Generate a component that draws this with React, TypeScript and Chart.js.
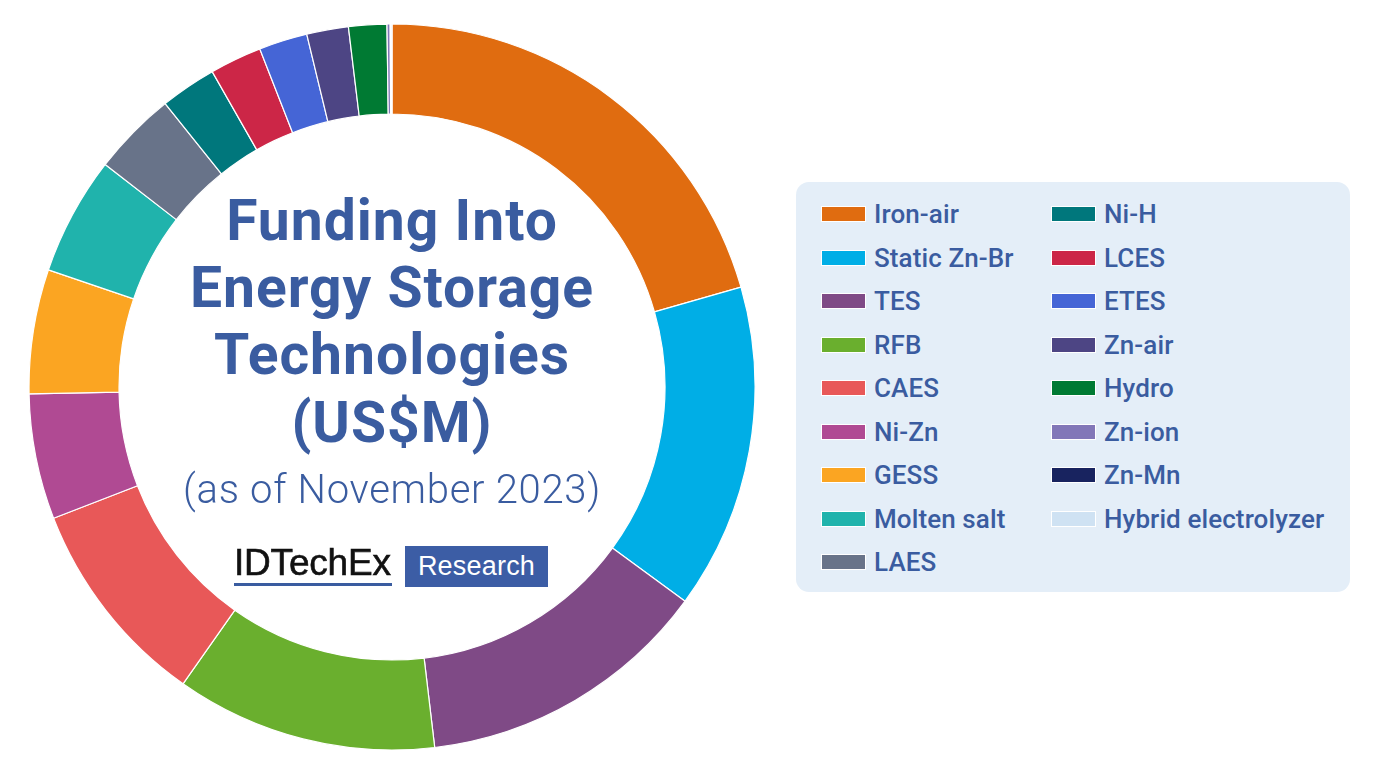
import React, { useEffect, useRef } from "react";
import { Chart, registerables } from "chart.js";

Chart.register(...registerables);

const technologies = [
  "Iron-air",
  "Static Zn-Br",
  "TES",
  "RFB",
  "CAES",
  "Ni-Zn",
  "GESS",
  "Molten salt",
  "LAES",
  "Ni-H",
  "LCES",
  "ETES",
  "Zn-air",
  "Hydro",
  "Zn-ion",
  "Zn-Mn",
  "Hybrid electrolyzer",
];

// Funding (US$M)
const fundingUSDm = [1030, 725, 655, 583, 468, 280, 277, 264, 188, 125, 116, 108, 93, 85, 7, 1, 3];

const sliceColors = [
  "#E06C10",
  "#00AEE6",
  "#7F4A86",
  "#6AAF2E",
  "#E85858",
  "#B04A93",
  "#FBA522",
  "#20B3AC",
  "#687389",
  "#00777C",
  "#CC2647",
  "#4565D6",
  "#4D4584",
  "#007A33",
  "#8277B8",
  "#18235F",
  "#CFE2F3",
];

const titleLines = ["Funding Into", "Energy Storage", "Technologies", "(US$M)"];
const subtitle = "(as of November 2023)";

const BLUE = "#3A5CA0";

export default function App() {
  const canvasRef = useRef<HTMLCanvasElement | null>(null);

  useEffect(() => {
    const canvas = canvasRef.current;
    if (!canvas) return;
    const chart = new Chart(canvas, {
      type: "doughnut",
      data: {
        labels: technologies,
        datasets: [
          {
            data: fundingUSDm,
            backgroundColor: sliceColors,
            borderColor: "#ffffff",
            borderWidth: 1.2,
            hoverBorderWidth: 1.2,
            hoverOffset: 0,
            offset: 0,
          },
        ],
      },
      options: {
        responsive: false,
        animation: false,
        devicePixelRatio: 1,
        radius: 363,
        cutout: "75.2%",
        layout: { padding: 0 },
        plugins: {
          legend: { display: false },
          tooltip: { enabled: false },
        },
      },
    });
    return () => chart.destroy();
  }, []);

  const titleBaselines = [239.5, 307, 374, 441.5];
  const titleSize = 57;
  const subSize = 40;

  const legendRows = 9;
  const rowPitch = 43.5;
  const firstCenter = 214;
  const legendFont = 26;

  return (
    <div
      style={{
        position: "fixed",
        left: 0,
        top: 0,
        width: 1378,
        height: 776,
        background: "#ffffff",
        overflow: "hidden",
        fontFamily: "Roboto, 'Noto Sans', sans-serif",
      }}
    >
      <div style={{ position: "absolute", left: 28, top: 23, width: 728, height: 728 }}>
        <canvas ref={canvasRef} width={728} height={728} style={{ width: 728, height: 728 }} />
      </div>

      {titleLines.map((line, i) => (
        <div
          key={line}
          style={{
            position: "absolute",
            left: 92,
            width: 600,
            top: titleBaselines[i] - 0.842 * titleSize,
            height: titleSize,
            lineHeight: `${titleSize}px`,
            fontSize: titleSize,
            fontWeight: 700,
            letterSpacing: "1px",
            color: BLUE,
            textAlign: "center",
            whiteSpace: "nowrap",
          }}
        >
          {line}
        </div>
      ))}
      <div
        style={{
          position: "absolute",
          left: 92,
          width: 600,
          top: 504 - 0.842 * subSize,
          height: subSize,
          lineHeight: `${subSize}px`,
          fontSize: subSize,
          fontWeight: 300,
          letterSpacing: "0.7px",
          color: BLUE,
          textAlign: "center",
          whiteSpace: "nowrap",
        }}
      >
        {subtitle}
      </div>

      {/* IDTechEx Research logo */}
      <div
        style={{
          position: "absolute",
          left: 234,
          top: 577.5 - 0.905 * 37,
          height: 37,
          lineHeight: "37px",
          fontSize: 37,
          fontFamily: "'Liberation Sans', Arial, sans-serif",
          letterSpacing: "-0.2px",
          color: "#111111",
          WebkitTextStroke: "0.6px #111111",
          whiteSpace: "nowrap",
        }}
      >
        IDTechEx
      </div>
      <div style={{ position: "absolute", left: 234, top: 583, width: 158, height: 2.6, background: BLUE }} />
      <div
        style={{
          position: "absolute",
          left: 405,
          top: 546,
          width: 143,
          height: 41,
          background: "#3C5DA5",
        }}
      />
      <div
        style={{
          position: "absolute",
          left: 405,
          width: 143,
          top: 577 - 0.905 * 27,
          height: 27,
          lineHeight: "27px",
          fontSize: 27,
          fontFamily: "'Liberation Sans', Arial, sans-serif",
          letterSpacing: "0.2px",
          color: "#ffffff",
          textAlign: "center",
          whiteSpace: "nowrap",
        }}
      >
        Research
      </div>

      {/* Legend */}
      <div
        style={{
          position: "absolute",
          left: 796,
          top: 182,
          width: 554,
          height: 410,
          background: "#E4EEF8",
          borderRadius: 13,
        }}
      />
      {technologies.map((name, i) => {
        const col = Math.floor(i / legendRows);
        const row = i % legendRows;
        const cy = firstCenter + row * rowPitch;
        const x = col === 0 ? 821 : 1051;
        return (
          <div
            key={name}
            style={{
              position: "absolute",
              left: x,
              top: cy - legendFont / 2,
              height: legendFont,
              display: "flex",
              alignItems: "center",
              whiteSpace: "nowrap",
            }}
          >
            <div
              style={{
                width: 45,
                height: 16,
                boxSizing: "border-box",
                border: "1px solid #ffffff",
                background: sliceColors[i],
                marginRight: 8,
              }}
            />
            <span
              style={{
                fontSize: legendFont,
                lineHeight: `${legendFont}px`,
                fontWeight: 500,
                letterSpacing: "0.1px",
                color: BLUE,
              }}
            >
              {name}
            </span>
          </div>
        );
      })}
    </div>
  );
}
